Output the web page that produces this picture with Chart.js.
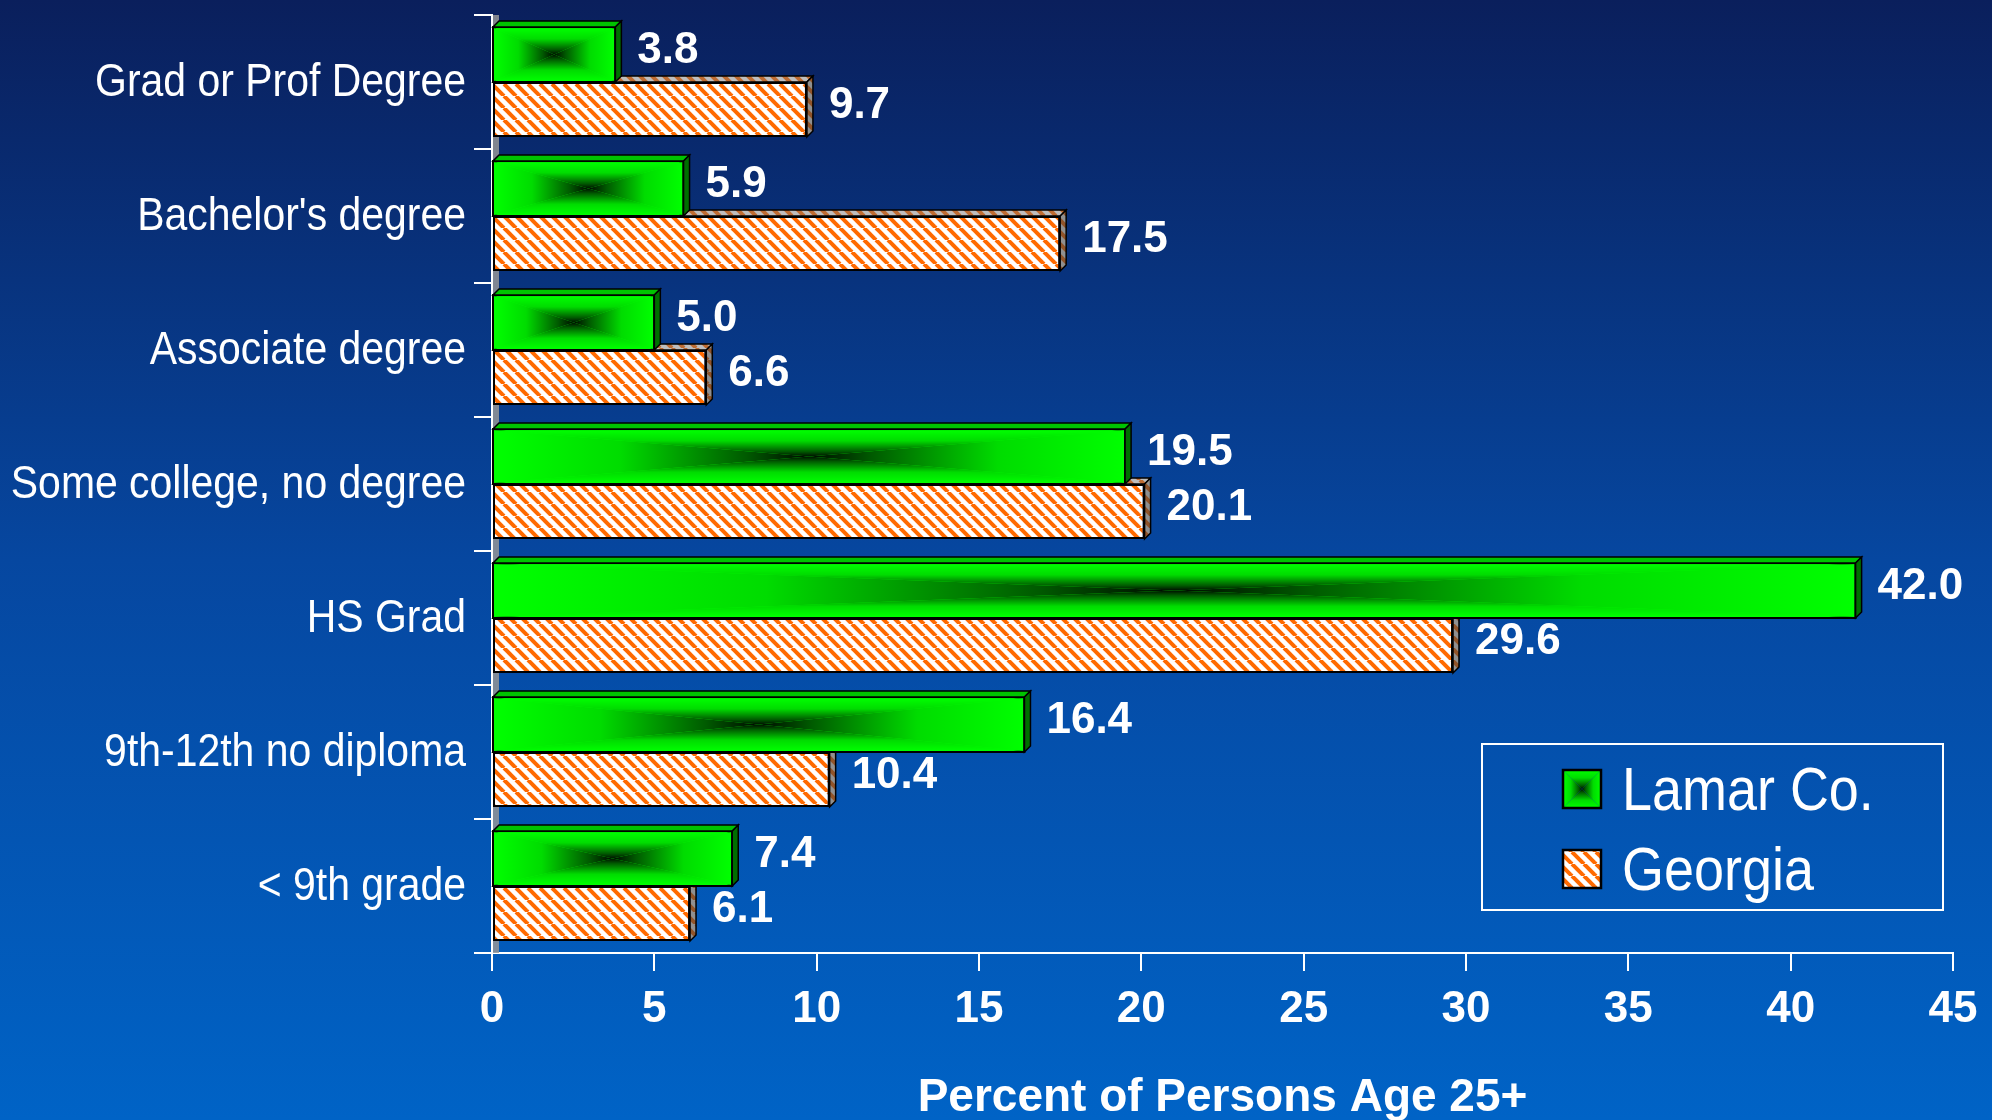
<!DOCTYPE html>
<html lang="en">
<head>
  <meta charset="UTF-8">
  <title>Educational Attainment - Lamar Co. vs Georgia</title>
  <script src="https://cdn.jsdelivr.net/npm/chart.js"></script>
  <style>
    html, body { margin: 0; padding: 0; }
    body {
      width: 1992px;
      height: 1120px;
      overflow: hidden;
      background: linear-gradient(to bottom, #0a1f5c 0%, #0647a0 50%, #0063c6 100%);
    }
  </style>
</head>
<body>
  <canvas id="eduChart" width="1992" height="1120"></canvas>

  <script>
    const categories = ['Grad or Prof Degree', "Bachelor's degree", 'Associate degree',
      'Some college, no degree', 'HS Grad', '9th-12th no diploma', '< 9th grade'];
    const lamarValues = [3.8, 5.9, 5.0, 19.5, 42.0, 16.4, 7.4];
    const georgiaValues = [9.7, 17.5, 6.6, 20.1, 29.6, 10.4, 6.1];
    const seriesNames = ['Lamar Co.', 'Georgia'];
    const xMin = 0, xMax = 45, xStep = 5;
    const axisTitle = 'Percent of Persons Age 25+';

    const sans = "'Liberation Sans', Arial, sans-serif";
    const DEPTH = 6;

    // white with orange "\" stripes
    function makeHatch() {
      const t = 12;
      const c = document.createElement('canvas');
      c.width = t; c.height = t;
      const g = c.getContext('2d');
      g.fillStyle = '#ffffff';
      g.fillRect(0, 0, t, t);
      g.strokeStyle = '#ff6a00';
      g.lineWidth = 4;
      for (let k = -1; k <= 1; k++) {
        g.beginPath();
        g.moveTo(k * t, 0);
        g.lineTo(k * t + t, t);
        g.stroke();
      }
      return g.createPattern(c, 'repeat');
    }
    const ctx = document.getElementById('eduChart').getContext('2d');
    const hatch = makeHatch();

    // green rectangle that darkens towards its centre
    function boxGradient(c, l, t, r, b) {
      const cx = (l + r) / 2, cy = (t + b) / 2;
      const tri = (pts, x0, y0, x1, y1) => {
        const gr = c.createLinearGradient(x0, y0, x1, y1);
        gr.addColorStop(0, '#00ff00');
        gr.addColorStop(0.4, '#00dc00');
        gr.addColorStop(0.8, '#005a00');
        gr.addColorStop(1, '#000800');
        c.fillStyle = gr;
        c.beginPath();
        c.moveTo(pts[0][0], pts[0][1]);
        c.lineTo(pts[1][0], pts[1][1]);
        c.lineTo(cx, cy);
        c.closePath();
        c.fill();
      };
      tri([[l, t], [r, t]], 0, t, 0, cy + 0.5);
      tri([[l, b], [r, b]], 0, b, 0, cy - 0.5);
      tri([[l, t], [l, b]], l, 0, cx + 0.5, 0);
      tri([[r, t], [r, b]], r, 0, cx - 0.5, 0);
    }

    function poly(c, pts, fill, overlay) {
      c.beginPath();
      c.moveTo(pts[0][0], pts[0][1]);
      for (let i = 1; i < pts.length; i++) c.lineTo(pts[i][0], pts[i][1]);
      c.closePath();
      c.fillStyle = fill;
      c.fill();
      if (overlay) { c.fillStyle = overlay; c.fill(); }
      c.strokeStyle = '#000000';
      c.lineWidth = 1.5;
      c.stroke();
    }

    // horizontal squeeze to get an Arial Narrow look
    function narrowText(c, text, x, y, k) {
      c.save();
      c.translate(x, y);
      c.scale(k, 1);
      c.fillText(text, 0, 0);
      c.restore();
    }

    const bars3d = {
      id: 'bars3d',
      beforeDatasetsDraw(chart) {
        const c = chart.ctx, a = chart.chartArea;
        c.save();
        c.fillStyle = 'rgba(150,150,150,0.85)';
        c.fillRect(a.left + 1, a.top, DEPTH, a.bottom - a.top);
        c.restore();
      },
      afterDatasetDraw(chart, args) {
        const c = chart.ctx;
        c.save();
        args.meta.data.forEach(el => {
          const p = el.getProps(['x', 'y', 'base', 'height'], true);
          const l = Math.min(p.base, p.x), r = Math.max(p.base, p.x);
          const t = p.y - p.height / 2, b = p.y + p.height / 2;
          const top = [[l, t], [l + DEPTH, t - DEPTH], [r + DEPTH, t - DEPTH], [r, t]];
          const side = [[r, t], [r + DEPTH, t - DEPTH], [r + DEPTH, b - DEPTH], [r, b]];
          if (args.index === 0) {
            boxGradient(c, l + 1, t + 1, r - 1, b - 1);
            c.strokeStyle = '#000000';
            c.lineWidth = 2;
            c.strokeRect(l, t, r - l, b - t);
            poly(c, top, '#00c400');
            poly(c, side, '#006e00');
          } else {
            poly(c, top, hatch, 'rgba(110,110,110,0.45)');
            poly(c, side, hatch, 'rgba(70,70,70,0.6)');
          }
        });
        c.restore();
      },
      afterDatasetsDraw(chart) {
        const c = chart.ctx;
        c.save();
        c.fillStyle = '#ffffff';
        c.font = 'bold 44px ' + sans;
        c.textBaseline = 'middle';
        c.textAlign = 'left';
        chart.data.datasets.forEach((ds, i) => {
          chart.getDatasetMeta(i).data.forEach((el, j) => {
            const p = el.getProps(['x', 'y'], true);
            c.fillText(ds.data[j].toFixed(1), p.x + DEPTH + 16, p.y - 4);
          });
        });
        c.restore();
      },
      afterDraw(chart) {
        const c = chart.ctx, a = chart.chartArea;
        c.save();
        // category labels
        const ys = chart.scales.y;
        c.fillStyle = '#ffffff';
        c.font = '46px ' + sans;
        c.textAlign = 'right';
        c.textBaseline = 'middle';
        chart.data.labels.forEach((lab, i) => {
          narrowText(c, lab, ys.right - 26, ys.getPixelForValue(i) + 1, 0.89);
        });

        // legend box
        const bx = a.right - 471, by = a.bottom - 209, bw = 461, bh = 166;
        c.strokeStyle = '#ffffff';
        c.lineWidth = 2;
        c.strokeRect(bx, by, bw, bh);
        const sx = bx + 81, sz = 38;
        const rows = [by + 26, by + 106];
        boxGradient(c, sx, rows[0], sx + sz, rows[0] + sz);
        c.strokeStyle = '#000000';
        c.lineWidth = 2.5;
        c.strokeRect(sx, rows[0], sz, sz);
        c.fillStyle = hatch;
        c.fillRect(sx, rows[1], sz, sz);
        c.strokeRect(sx, rows[1], sz, sz);
        c.fillStyle = '#ffffff';
        c.font = '62px ' + sans;
        c.textAlign = 'left';
        c.textBaseline = 'alphabetic';
        narrowText(c, seriesNames[0], sx + 59, rows[0] + 40, 0.87);
        narrowText(c, seriesNames[1], sx + 59, rows[1] + 40, 0.87);
        c.restore();
      }
    };

    const chart = new Chart(ctx, {
      type: 'bar',
      data: {
        labels: categories,
        datasets: [
          {
            label: seriesNames[0],
            data: lamarValues,
            backgroundColor: '#00ff00',
            borderColor: '#000000',
            borderWidth: 2,
            borderSkipped: false
          },
          {
            label: seriesNames[1],
            data: georgiaValues,
            backgroundColor: hatch,
            borderColor: '#000000',
            borderWidth: 2,
            borderSkipped: false
          }
        ]
      },
      options: {
        indexAxis: 'y',
        responsive: false,
        animation: false,
        devicePixelRatio: 1,
        categoryPercentage: 0.82,
        barPercentage: 1.0,
        layout: { padding: { top: 15, right: 39, left: 0, bottom: 0 } },
        plugins: {
          legend: { display: false },
          tooltip: { enabled: false }
        },
        scales: {
          y: {
            grid: { drawOnChartArea: false, color: '#ffffff', lineWidth: 2, tickLength: 18, offset: true },
            border: { color: '#ffffff', width: 2 },
            ticks: { display: false },
            afterFit(s) { s.width = 492; }
          },
          x: {
            type: 'linear',
            min: xMin,
            max: xMax,
            grid: { drawOnChartArea: false, color: '#ffffff', lineWidth: 2, tickLength: 18 },
            border: { color: '#ffffff', width: 2 },
            ticks: { stepSize: xStep, color: '#ffffff', font: { family: sans, size: 44, weight: 'bold' }, padding: 12 },
            title: {
              display: true,
              text: axisTitle,
              color: '#ffffff',
              font: { family: sans, size: 46, weight: 'bold' },
              padding: { top: 0, bottom: -6 }
            },
            afterFit(s) { s.height = 167; }
          }
        }
      },
      plugins: [bars3d]
    });
  </script>
</body>
</html>
